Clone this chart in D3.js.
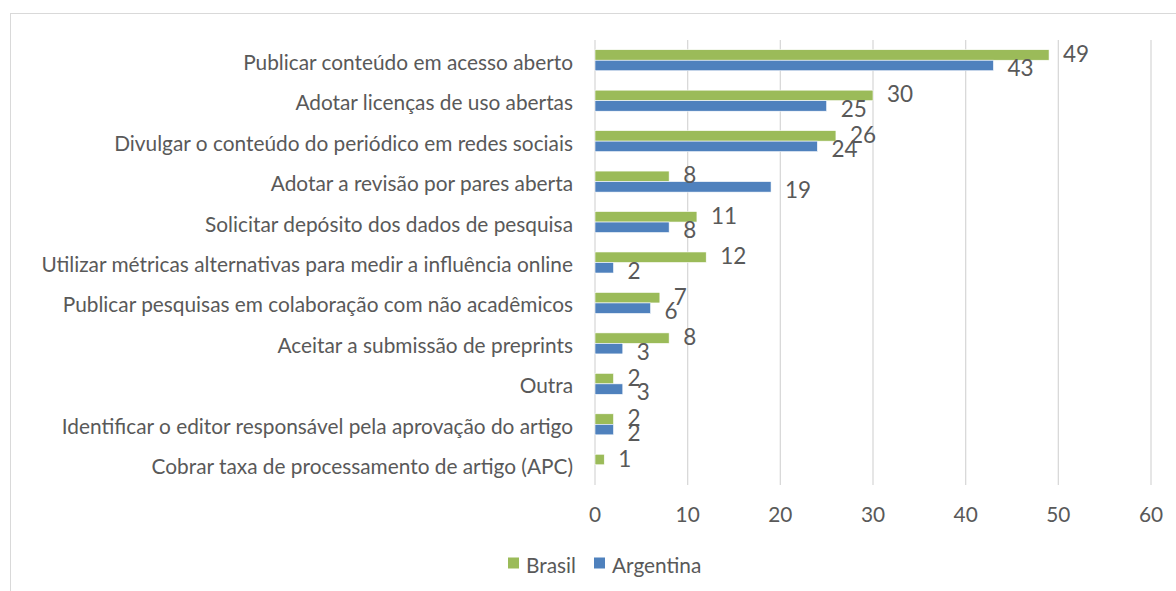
<!DOCTYPE html>
<html>
<head>
<meta charset="utf-8">
<script src="https://cdn.jsdelivr.net/npm/d3@7"></script>
<style>
  body { margin: 0; background: #fff; }
  svg { display: block; font-family: Lato, "Noto Sans", sans-serif; }
  .lbl { fill: #595959; }
</style>
</head>
<body>
<svg id="chart" width="1176" height="591"></svg>
<script>
// categories top to bottom
const categories = [
    "Publicar conteúdo em acesso aberto",
    "Adotar licenças de uso abertas",
    "Divulgar o conteúdo do periódico em redes sociais",
    "Adotar a revisão por pares aberta",
    "Solicitar depósito dos dados de pesquisa ",
    "Utilizar métricas alternativas para medir a influência online ",
    "Publicar pesquisas em colaboração com não acadêmicos",
    "Aceitar a submissão de preprints",
    "Outra",
    "Identificar o editor responsável pela aprovação do artigo",
    "Cobrar taxa de processamento de artigo (APC)"
];
const brasil = [49, 30, 26, 8, 11, 12, 7, 8, 2, 2, 1];
const argentina = [43, 25, 24, 19, 8, 2, 6, 3, 3, 2, null];
const seriesNames = ["Brasil", "Argentina"];
const seriesColors = ["#9bbb59", "#4f81bd"];
const xTicks = [0, 10, 20, 30, 40, 50, 60];

const svg = d3.select("#chart");
const plot = { left: 595, right: 1151, top: 40, bottom: 485 };

// chart border
svg.append("rect")
    .attr("x", 10.5).attr("y", 13.5)
    .attr("width", 1180).attr("height", 600)
    .attr("fill", "#fff")
    .attr("stroke", "#d9d9d9");

const x = d3.scaleLinear().domain([0, 60]).range([plot.left, plot.right]);
const y = d3.scaleBand().domain(categories).range([plot.top, plot.bottom])
    .paddingInner(0.48).paddingOuter(0.24);
const sub = d3.scaleBand().domain(seriesNames).range([0, y.bandwidth()]);

// fit label font to the reference width of the first label
const probe = svg.append("text").attr("font-size", 100).text(categories[0]);
const fs = 100 * 330 / probe.node().getComputedTextLength();
probe.remove();

// gridlines
svg.append("g").selectAll("line")
    .data(xTicks)
    .join("line")
    .attr("x1", d => x(d)).attr("x2", d => x(d))
    .attr("y1", plot.top).attr("y2", plot.bottom)
    .attr("stroke", "#d9d9d9")
    .attr("stroke-width", 1.3);

// tick labels
svg.append("g").selectAll("text")
    .data(xTicks)
    .join("text")
    .attr("class", "lbl")
    .attr("x", d => x(d))
    .attr("y", 513)
    .attr("text-anchor", "middle")
    .attr("dominant-baseline", "central")
    .attr("font-size", fs)
    .text(d => d);

// category labels
svg.append("g").selectAll("text")
    .data(categories)
    .join("text")
    .attr("class", "lbl")
    .attr("x", 573)
    .attr("y", d => y(d) + y.bandwidth() / 2 + 1)
    .attr("text-anchor", "end")
    .attr("dominant-baseline", "central")
    .attr("font-size", fs)
    .text(d => d.trimEnd());

const series = [brasil, argentina];
const rowsOf = (vals) => categories.map((c, i) => ({ c, v: vals[i] })).filter(d => d.v != null);

// bars first, then all value labels on top
series.forEach((vals, si) => {
    svg.append("g").selectAll("rect")
        .data(rowsOf(vals))
        .join("rect")
        .attr("x", x(0))
        .attr("y", d => y(d.c) + sub(seriesNames[si]))
        .attr("width", d => x(d.v) - x(0))
        .attr("height", sub.bandwidth())
        .attr("fill", seriesColors[si])
        .attr("stroke", "#fff")
        .attr("stroke-width", 0.6);
});

const labelShift = [-1.5, 2.5];
series.forEach((vals, si) => {
    svg.append("g").selectAll("text")
        .data(rowsOf(vals))
        .join("text")
        .attr("class", "lbl")
        .attr("x", d => x(d.v) + 14)
        .attr("y", d => y(d.c) + sub(seriesNames[si]) + sub.bandwidth() / 2 + labelShift[si])
        .attr("dominant-baseline", "central")
        .attr("font-size", fs * 1.08)
        .text(d => d.v);
});

// legend
const legend = svg.append("g");
const legendX = [508, 594];
seriesNames.forEach((name, i) => {
    legend.append("rect")
        .attr("x", legendX[i]).attr("y", 557.5)
        .attr("width", 11).attr("height", 11)
        .attr("fill", seriesColors[i]);
    legend.append("text")
        .attr("class", "lbl")
        .attr("x", legendX[i] + 18)
        .attr("y", 564)
        .attr("dominant-baseline", "central")
        .attr("font-size", fs)
        .text(name);
});
</script>
</body>
</html>
